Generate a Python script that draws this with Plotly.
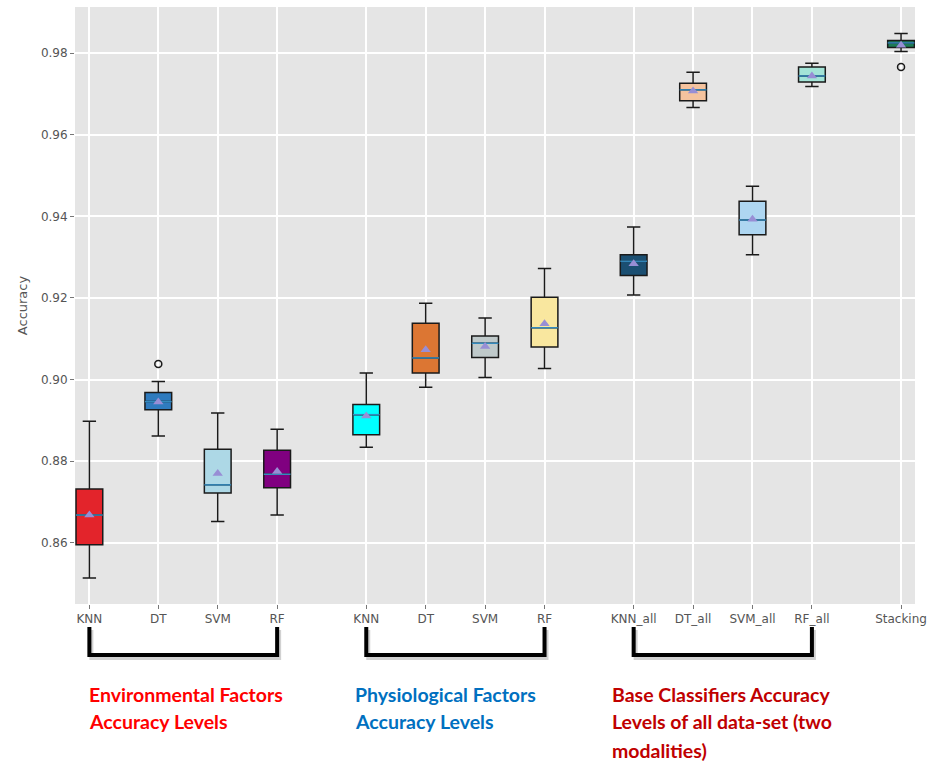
import plotly.graph_objects as go

# ---- data: cross-validation accuracy summaries per classifier ----
labels = ["KNN", "DT", "SVM", "RF",
          "KNN", "DT", "SVM", "RF",
          "KNN_all", "DT_all", "SVM_all", "RF_all",
          "Stacking"]

lower_whisker = [0.8514, 0.8862, 0.8652, 0.8668,
                 0.8834, 0.8981, 0.9005, 0.9027,
                 0.9207, 0.9667, 0.9306, 0.9718,
                 0.9804]
q1 = [0.8595, 0.8926, 0.8722, 0.8735,
      0.8865, 0.9016, 0.9054, 0.9080,
      0.9255, 0.9683, 0.9355, 0.9729,
      0.9814]
median = [0.8668, 0.8946, 0.8742, 0.8768,
          0.8914, 0.9053, 0.9089, 0.9127,
          0.9290, 0.9710, 0.9391, 0.9744,
          0.9825]
q3 = [0.8732, 0.8968, 0.8829, 0.8827,
      0.8939, 0.9138, 0.9107, 0.9202,
      0.9306, 0.9726, 0.9437, 0.9766,
      0.9831]
upper_whisker = [0.8898, 0.8995, 0.8918, 0.8878,
                 0.9016, 0.9187, 0.9151, 0.9272,
                 0.9374, 0.9753, 0.9474, 0.9775,
                 0.9848]
mean = [0.8668, 0.8945, 0.8770, 0.8775,
        0.8911, 0.9073, 0.9081, 0.9137,
        0.9284, 0.9707, 0.9393, 0.9744,
        0.9819]
# outliers: (box index, value)
outlier_idx = [1, 12]
outlier_val = [0.9038, 0.9766]

# ---- layout of the boxes along x ----
positions = [0.84, 2, 3, 4,
             5.5, 6.5, 7.5, 8.5,
             10, 11, 12, 13,
             14.5]
x_range = [0.598, 14.735]
box_width = 0.45

fill_colors = ["#E3242B", "#2F7BBE", "#ADD8E6", "#800080",
               "#00FFFF", "#DC7633", "#BFC9CA", "#F9E79F",
               "#1B4F72", "#F5C39E", "#AED6F1", "#A3E4D7",
               "#1E7B55"]

MEDIAN_COLOR = "#348ABD"
MEAN_COLOR = "#988ED5"
EDGE = "#1a1a1a"

W, H = 934, 763
M = dict(l=75, r=15, t=7, b=159)
plot_w = W - M["l"] - M["r"]
plot_h = H - M["t"] - M["b"]


def px_x(px):
    return (px - M["l"]) / plot_w


def px_y(py):
    return (H - M["b"] - py) / plot_h


def data_x(v):
    return (v - x_range[0]) / (x_range[1] - x_range[0])


fig = go.Figure()

for i, pos in enumerate(positions):
    fig.add_trace(go.Box(
        x=[pos],
        q1=[q1[i]], median=[median[i]], q3=[q3[i]],
        lowerfence=[lower_whisker[i]], upperfence=[upper_whisker[i]],
        width=box_width, whiskerwidth=0.5,
        fillcolor=fill_colors[i],
        line=dict(color=EDGE, width=1.5),
        boxpoints=False, showlegend=False, hoverinfo="skip",
    ))

# coloured median lines drawn over each box
for i, pos in enumerate(positions):
    fig.add_trace(go.Scatter(
        x=[pos - box_width / 2, pos + box_width / 2],
        y=[median[i], median[i]],
        mode="lines", line=dict(color=MEDIAN_COLOR, width=1.5),
        showlegend=False, hoverinfo="skip",
    ))

# mean markers
fig.add_trace(go.Scatter(
    x=positions, y=mean, mode="markers",
    marker=dict(symbol="triangle-up", size=9, color=MEAN_COLOR),
    showlegend=False, hoverinfo="skip",
))

# outliers
fig.add_trace(go.Scatter(
    x=[positions[i] for i in outlier_idx], y=outlier_val, mode="markers",
    marker=dict(symbol="circle-open", size=7, color=EDGE, line=dict(width=1.5)),
    showlegend=False, hoverinfo="skip",
))

# ---- group brackets and captions under the axis ----
groups = [
    dict(first=0, last=3, color="#FF0000", tx=87,
         lines=["Environmental Factors", "Accuracy Levels"]),
    dict(first=4, last=7, color="#0070C0", tx=354,
         lines=["Physiological Factors", "Accuracy Levels"]),
    dict(first=8, last=11, color="#C00000", tx=613,
         lines=["Base Classifiers Accuracy", "Levels of all data-set (two", "modalities)"]),
]

shapes = []
annotations = []
y_top, y_bot = px_y(627), px_y(655)
for g in groups:
    x0 = data_x(positions[g["first"]])
    x1 = data_x(positions[g["last"]])
    # soft shadow under the bracket
    sx = 2 / plot_w
    sy = 3 / plot_h
    shapes.append(dict(
        type="path", xref="paper", yref="paper",
        path=f"M {x0+sx},{y_top-sy} L {x0+sx},{y_bot-sy} L {x1+sx},{y_bot-sy} L {x1+sx},{y_top-sy}",
        line=dict(color="rgba(0,0,0,0.18)", width=4),
    ))
    shapes.append(dict(
        type="path", xref="paper", yref="paper",
        path=f"M {x0},{y_top} L {x0},{y_bot} L {x1},{y_bot} L {x1},{y_top}",
        line=dict(color="black", width=4),
    ))
    for k, line in enumerate(g["lines"]):
        annotations.append(dict(
            text=f"<b>{line}</b>", xref="paper", yref="paper",
            x=px_x(g["tx"]), y=px_y(694 + 28 * k),
            xanchor="left", yanchor="middle", showarrow=False,
            font=dict(family="Lato", size=19.5, color=g["color"]),
        ))

fig.update_layout(
    width=W, height=H, margin=M,
    paper_bgcolor="white", plot_bgcolor="#E5E5E5",
    boxmode="overlay",
    font=dict(family="DejaVu Sans", size=12, color="#555555"),
    shapes=shapes, annotations=annotations,
    xaxis=dict(
        range=x_range, tickmode="array", tickvals=positions, ticktext=labels,
        showgrid=True, gridcolor="white", gridwidth=1.5,
        ticks="outside", ticklen=4, tickcolor="#777777",
        zeroline=False, showline=False,
        tickfont=dict(size=12, color="#555555"),
    ),
    yaxis=dict(
        range=[0.845, 0.9913],
        tickmode="array", tickvals=[0.86, 0.88, 0.90, 0.92, 0.94, 0.96, 0.98],
        ticktext=["0.86", "0.88", "0.90", "0.92", "0.94", "0.96", "0.98"],
        showgrid=True, gridcolor="white", gridwidth=1.5,
        ticks="outside", ticklen=4, tickcolor="#777777",
        zeroline=False, showline=False,
        tickfont=dict(size=12, color="#555555"),
        title=dict(text="Accuracy", font=dict(size=13, color="#555555"), standoff=10),
    ),
)

fig.write_html("out.html")
